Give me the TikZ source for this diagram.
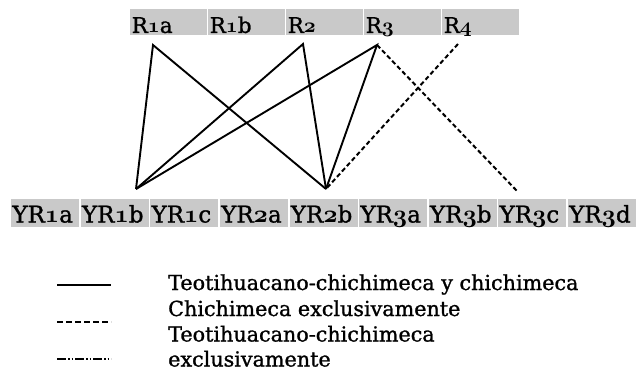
\documentclass[tikz,border=0pt]{standalone}
\usepackage{fontspec}
\setmainfont{DejaVu Serif}[FakeBold=1.2]
\newcommand\osn[1]{{\fontencoding{OML}\fontfamily{cmm}\fontseries{b}\fontshape{it}\selectfont #1}}
\definecolor{boxgray}{RGB}{201,201,201}
\begin{document}
\begin{tikzpicture}[x=1pt,y=-1pt,
  topbox/.style={anchor=north west, fill=boxgray, inner xsep=1.5pt, inner ysep=0pt,
     text width=73.5pt, align=left, text height=23.7pt, text depth=1.8pt,
     font=\fontsize{21.5}{24}\selectfont},
  botbox/.style={anchor=north west, fill=boxgray, inner xsep=1.2pt, inner ysep=0pt,
     text width=65.5pt, align=left, text height=23.3pt, text depth=4.7pt,
     font=\fontsize{23}{26}\selectfont},
  conn/.style={line width=1.9pt, black},
  dconn/.style={line width=2pt, black, dash pattern=on 4.5pt off 2.8pt},
  legtext/.style={anchor=base west, inner sep=0pt, font=\fontsize{20.7}{25}\selectfont},
  legsolid/.style={line width=1.6pt},
  legdash/.style={line width=1.3pt, dash pattern=on 5.5pt off 3.5pt},
  legdashdot/.style={line width=1.3pt, dash pattern=on 9pt off 2pt on 1.5pt off 2pt on 1.5pt off 2pt}
]
\useasboundingbox (0,0) rectangle (644,380);

% top row
\node[topbox] (R1a) at (130,9) {R\osn{1}a};
\node[topbox] (R1b) at (208,9) {R\osn{1}b};
\node[topbox] (R2)  at (286,9) {R\osn{2}};
\node[topbox] (R3)  at (364,9) {R\osn{3}};
\node[topbox] (R4)  at (442,9) {R\osn{4}};

% bottom row
\node[botbox] (YR1a) at (11,199)    {YR\osn{1}a};
\node[botbox] (YR1b) at (80.6,199)  {YR\osn{1}b};
\node[botbox] (YR1c) at (150.2,199) {YR\osn{1}c};
\node[botbox] (YR2a) at (219.8,199) {YR\osn{2}a};
\node[botbox] (YR2b) at (289.4,199) {YR\osn{2}b};
\node[botbox] (YR3a) at (359,199)   {YR\osn{3}a};
\node[botbox] (YR3b) at (428.6,199) {YR\osn{3}b};
\node[botbox] (YR3c) at (498.2,199) {YR\osn{3}c};
\node[botbox] (YR3d) at (567.8,199) {YR\osn{3}d};

% connector end points
\coordinate (pR1a) at (153,45);
\coordinate (pR2)  at (303,44);
\coordinate (pR3)  at (377,45);
\coordinate (pR4)  at (458,44);
\coordinate (pYR1b) at (136,189);
\coordinate (pYR2b) at (326,189);
\coordinate (pYR3c) at (517,191);

\draw[conn] (pYR1b) -- (pR1a) -- (pYR2b);
\draw[conn] (pYR1b) -- (pR2) -- (pYR2b);
\draw[conn] (pYR1b) -- (pR3) -- (pYR2b);
\draw[dconn] (pR3) -- (pYR3c);
\draw[dconn] (pR4) -- (pYR2b);

% legend
\coordinate (ls1) at (57,285);  \coordinate (le1) at (111,285);
\coordinate (ls2) at (57,322);  \coordinate (le2) at (111,322);
\coordinate (ls3) at (57,359);  \coordinate (le3) at (111,359);
\draw[legsolid] (ls1) -- (le1);
\draw[legdash] (ls2) -- (le2);
\draw[legdashdot] (ls3) -- (le3);

\node[legtext] (t1) at (168,290)   {Teotihuacano-chichimeca y chichimeca};
\node[legtext] (t2) at (168,316)   {Chichimeca exclusivamente};
\node[legtext] (t3) at (168,341.5) {Teotihuacano-chichimeca};
\node[legtext] (t4) at (168,366.5) {exclusivamente};
\end{tikzpicture}
\end{document}
